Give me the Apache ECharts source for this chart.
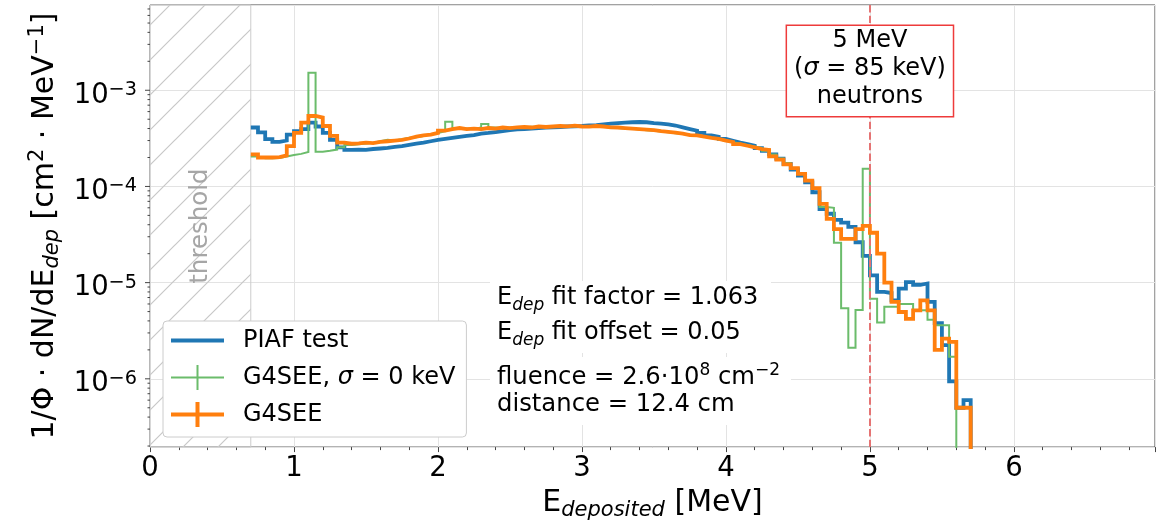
<!DOCTYPE html>
<html>
<head>
<meta charset="utf-8">
<script src="https://cdn.jsdelivr.net/npm/echarts@6/dist/echarts.min.js"></script>
<style>
  html, body { margin: 0; padding: 0; background: #ffffff; }
  #chart { width: 1164px; height: 526px; }
</style>
</head>
<body>
<div id="chart"></div>
<script>
// Deposited-energy histograms, 0.05 MeV bins starting at 0.70 MeV (values are 1/Φ·dN/dE per bin)
const binStart = 0.70;
const binWidth = 0.05;

const piafTest = [
  4.1e-4, 3.65e-4, 3.1e-4, 2.9e-4, 3.0e-4, 3.45e-4, 3.75e-4, 3.95e-4, 4.6e-4, 4.2e-4,
  3.6e-4, 3.05e-4, 2.55e-4, 2.4e-4, 2.42e-4, 2.4e-4, 2.45e-4, 2.48e-4, 2.52e-4, 2.58e-4,
  2.62e-4, 2.7e-4, 2.78e-4, 2.85e-4, 2.95e-4, 3.05e-4, 3.12e-4, 3.2e-4, 3.28e-4, 3.35e-4,
  3.42e-4, 3.55e-4, 3.6e-4, 3.68e-4, 3.75e-4, 3.85e-4, 3.92e-4, 3.95e-4, 4.0e-4, 4.05e-4,
  4.1e-4, 4.12e-4, 4.15e-4, 4.2e-4, 4.22e-4, 4.25e-4, 4.3e-4, 4.35e-4, 4.42e-4, 4.5e-4,
  4.55e-4, 4.6e-4, 4.65e-4, 4.68e-4, 4.65e-4, 4.55e-4, 4.5e-4, 4.42e-4, 4.3e-4, 4.12e-4,
  3.95e-4, 3.8e-4, 3.6e-4, 3.4e-4, 3.28e-4, 3.12e-4, 2.98e-4, 2.85e-4, 2.75e-4, 2.65e-4,
  2.5e-4, 2.35e-4, 2.15e-4, 1.95e-4, 1.72e-4, 1.5e-4, 1.3e-4, 1.1e-4, 8.7e-5, 5.8e-5,
  5.2e-5, 4.5e-5, 4.2e-5, 3.8e-5, 2.63e-5, 1.9e-5, 1.19e-5, 8.0e-6, 7.8e-6, 6.55e-6,
  8.65e-6, 1.01e-5, 9.5e-6, 9.8e-6, 6.3e-6, 3.8e-6, 2.24e-6, 9.4e-7, 5.0e-7, 6.0e-7
];

const g4seeSigma0 = [
  2.05e-4, 1.97e-4, 1.97e-4, 1.98e-4, 2.05e-4, 2.12e-4, 2.18e-4, 2.28e-4, 1.52e-3, 2.3e-4,
  2.35e-4, 2.42e-4, 2.55e-4, 2.7e-4, 2.75e-4, 2.8e-4, 2.85e-4, 2.95e-4, 3.05e-4, 3.0e-4,
  3.1e-4, 3.2e-4, 3.25e-4, 3.35e-4, 3.5e-4, 3.6e-4, 3.75e-4, 4.7e-4, 3.95e-4, 4.0e-4,
  3.95e-4, 4.1e-4, 4.45e-4, 4.1e-4, 4.05e-4, 4.1e-4, 4.15e-4, 4.1e-4, 4.18e-4, 4.15e-4,
  4.22e-4, 4.2e-4, 4.2e-4, 4.25e-4, 4.2e-4, 4.25e-4, 4.2e-4, 4.15e-4, 4.18e-4, 4.1e-4,
  4.05e-4, 4.0e-4, 3.98e-4, 3.9e-4, 3.85e-4, 3.8e-4, 3.72e-4, 3.65e-4, 3.58e-4, 3.5e-4,
  3.45e-4, 3.38e-4, 3.28e-4, 3.2e-4, 3.08e-4, 2.98e-4, 2.88e-4, 2.8e-4, 2.7e-4, 2.6e-4,
  2.5e-4, 2.35e-4, 2.15e-4, 1.95e-4, 1.75e-4, 1.55e-4, 1.35e-4, 1.15e-4, 9.5e-5, 6.1e-5,
  6.0e-5, 2.6e-5, 5.4e-6, 2.1e-6, 5.2e-6, 1.53e-4, 6.8e-6, 3.85e-6, 5.6e-6, 5.6e-6,
  6.0e-6, 6.0e-6, 5.15e-6, 5.15e-6, 4.1e-6, 3.6e-6, 3.6e-6, 1.7e-6, 0, 0
];

const g4see = [
  2.15e-4, 2.0e-4, 2.0e-4, 2.02e-4, 2.1e-4, 2.62e-4, 3.6e-4, 4.6e-4, 5.4e-4, 5.2e-4,
  4.25e-4, 3.35e-4, 2.85e-4, 2.78e-4, 2.8e-4, 2.85e-4, 2.82e-4, 2.9e-4, 2.95e-4, 3.0e-4,
  3.05e-4, 3.15e-4, 3.3e-4, 3.4e-4, 3.45e-4, 3.6e-4, 3.8e-4, 3.95e-4, 4.05e-4, 3.95e-4,
  4.0e-4, 3.95e-4, 4.05e-4, 4.0e-4, 4.1e-4, 4.05e-4, 4.12e-4, 4.15e-4, 4.1e-4, 4.2e-4,
  4.15e-4, 4.2e-4, 4.25e-4, 4.22e-4, 4.28e-4, 4.2e-4, 4.18e-4, 4.25e-4, 4.2e-4, 4.12e-4,
  4.1e-4, 4.05e-4, 4.0e-4, 3.95e-4, 3.9e-4, 3.85e-4, 3.75e-4, 3.7e-4, 3.62e-4, 3.55e-4,
  3.42e-4, 3.4e-4, 3.3e-4, 3.2e-4, 3.12e-4, 3.0e-4, 2.9e-4, 2.75e-4, 2.65e-4, 2.55e-4,
  2.45e-4, 2.4e-4, 2.05e-4, 1.9e-4, 1.7e-4, 1.55e-4, 1.35e-4, 1.15e-4, 9.6e-5, 6.6e-5,
  4.6e-5, 3.6e-5, 2.85e-5, 2.85e-5, 3.6e-5, 3.9e-5, 3.3e-5, 2.0e-5, 1.0e-5, 6.3e-6,
  4.95e-6, 4.2e-6, 5.15e-6, 6.55e-6, 5.15e-6, 2.0e-6, 2.62e-6, 2.42e-6, 5.0e-7, 5.0e-7
];

// Axis ticks
const xTickValues = [0, 1, 2, 3, 4, 5, 6];
const yMajorTicks = [1e-6, 1e-5, 1e-4, 1e-3];
const yMinorTicks = [
  2e-7, 3e-7, 4e-7, 5e-7, 6e-7, 7e-7, 8e-7, 9e-7,
  2e-6, 3e-6, 4e-6, 5e-6, 6e-6, 7e-6, 8e-6, 9e-6,
  2e-5, 3e-5, 4e-5, 5e-5, 6e-5, 7e-5, 8e-5, 9e-5,
  2e-4, 3e-4, 4e-4, 5e-4, 6e-4, 7e-4, 8e-4, 9e-4,
  2e-3, 3e-3, 4e-3, 5e-3, 6e-3, 7e-3
];

const xMin = 0, xMax = 6.98;
const yMin = 1.95e-7, yMax = 7.7e-3;
const thresholdEnergy = 0.7;
const beamEnergy = 5;

const FONT = "'DejaVu Sans', sans-serif";
const EMPTY = 1e-12; // empty bins sit far below the visible range and are clipped

function histogram(values) {
  const pts = values.map((v, i) => [+(binStart + i * binWidth).toFixed(2), v > 0 ? v : EMPTY]);
  pts.push([+(binStart + values.length * binWidth).toFixed(2), EMPTY]);
  return pts;
}

// diagonal "/" hatch tile for the below-threshold band
function hatchPattern() {
  const s = 35;
  const c = document.createElement('canvas');
  c.width = s; c.height = s;
  const g = c.getContext('2d');
  g.strokeStyle = '#c8c8c8';
  g.lineWidth = 1.2;
  g.beginPath();
  g.moveTo(-1, s + 1); g.lineTo(s + 1, -1);
  g.moveTo(-s / 2, s / 2); g.lineTo(s / 2, -s / 2);
  g.moveTo(s / 2, s * 1.5); g.lineTo(s * 1.5, s / 2);
  g.stroke();
  return c;
}

const tickMarks = yMajorTicks.map(v => [xMin, v, 5]).concat(yMinorTicks.map(v => [xMin, v, 2.5]));

const chart = echarts.init(document.getElementById('chart'), null, { renderer: 'canvas' });

const richBase = { fontFamily: FONT, color: '#000' };

chart.setOption({
  animation: false,
  backgroundColor: '#ffffff',
  textStyle: { fontFamily: FONT },
  grid: {
    left: 150, top: 5, width: 1005, height: 444,
    show: true, borderColor: '#444', borderWidth: 1, backgroundColor: 'transparent'
  },
  legend: {
    left: 163, top: 321, orient: 'vertical',
    selectedMode: false,
    backgroundColor: '#ffffff', borderColor: '#cccccc', borderWidth: 1, borderRadius: 4,
    padding: [7, 11, 10, 8],
    itemWidth: 53, itemHeight: 25, itemGap: 12,
    itemStyle: { borderWidth: 0 },
    textStyle: {
      fontFamily: FONT, fontSize: 24, color: '#000', padding: [0, 0, 0, 14],
      rich: { i: { fontFamily: FONT, fontSize: 24, fontStyle: 'italic', color: '#000' } }
    },
    formatter: name => name.replace('σ', '{i|σ}'),
    data: [
      { name: 'PIAF test', icon: 'path://M0,0M0,10.5H53V14.5H0ZM53,25' },
      { name: 'G4SEE, σ = 0 keV', icon: 'path://M0,11.5H53V13.5H0ZM25.5,0H27.5V25H25.5Z' },
      { name: 'G4SEE', icon: 'path://M0,10.5H53V14.5H0ZM24.5,0H28.5V25H24.5Z' }
    ]
  },
  xAxis: {
    type: 'value', min: xMin, max: xMax, interval: 1,
    axisLine: { show: false },
    axisTick: { show: true, length: 5, lineStyle: { color: '#444' } },
    minorTick: { show: true, splitNumber: 5, length: 3, lineStyle: { color: '#444' } },
    splitLine: { show: true, lineStyle: { color: '#e3e3e3', width: 1 } },
    axisLabel: {
      fontFamily: FONT, fontSize: 27.5, color: '#000', margin: 8,
      formatter: v => (xTickValues.indexOf(Math.round(v * 1000) / 1000) >= 0 ? String(Math.round(v)) : '')
    },
    name: '{b|E}{sub|deposited}{b| [MeV]}',
    nameLocation: 'middle', nameGap: 37,
    nameTextStyle: {
      rich: {
        b: Object.assign({ fontSize: 30, lineHeight: 36, verticalAlign: 'middle' }, richBase),
        sub: Object.assign({ fontSize: 21, lineHeight: 19, verticalAlign: 'bottom', fontStyle: 'italic' }, richBase)
      }
    }
  },
  yAxis: {
    type: 'log', logBase: 10, min: yMin, max: yMax,
    axisLine: { show: false },
    axisTick: { show: false },
    splitLine: { show: true, lineStyle: { color: '#e3e3e3', width: 1 } },
    axisLabel: {
      margin: 13,
      padding: [10, 0, 0, 0],
      formatter: v => {
        const e = Math.log10(v);
        const r = Math.round(e);
        if (Math.abs(e - r) > 1e-6 || !yMajorTicks.some(t => Math.abs(Math.log10(t) - r) < 1e-6)) return '';
        return '{b|10}{s|−' + Math.abs(r) + '}';
      },
      rich: {
        b: Object.assign({ fontSize: 27.5, lineHeight: 29, verticalAlign: 'bottom' }, richBase),
        s: Object.assign({ fontSize: 19.25, lineHeight: 19, verticalAlign: 'top' }, richBase)
      }
    },
    name: '{b|1/Φ · dN/dE}{sub|dep}{b| [cm}{sup|2}{b| · MeV}{sup|−1}{b|]}',
    nameLocation: 'middle', nameRotate: 90, nameGap: 87,
    nameTextStyle: {
      rich: {
        b: Object.assign({ fontSize: 30, lineHeight: 36, verticalAlign: 'middle' }, richBase),
        sub: Object.assign({ fontSize: 21, lineHeight: 19, verticalAlign: 'bottom', fontStyle: 'italic' }, richBase),
        sup: Object.assign({ fontSize: 21, lineHeight: 19, verticalAlign: 'top' }, richBase)
      }
    }
  },
  series: [
    {
      name: 'PIAF test', type: 'line', step: 'end', symbol: 'none', z: 3,
      data: histogram(piafTest),
      lineStyle: { color: '#1f77b4', width: 3.8, join: 'miter', cap: 'butt' },
      itemStyle: { color: '#1f77b4' },
      markArea: {
        silent: true,
        itemStyle: { color: { image: hatchPattern(), repeat: 'repeat' }, borderColor: '#cccccc', borderWidth: 1 },
        label: { show: false },
        data: [[{ xAxis: xMin }, { xAxis: thresholdEnergy }]]
      },
      markLine: {
        silent: true, symbol: ['none', 'none'],
        label: { show: false },
        lineStyle: { color: '#e57373', width: 2, type: [7.4, 3.2] },
        data: [{ xAxis: beamEnergy }]
      }
    },
    {
      name: 'G4SEE, σ = 0 keV', type: 'line', step: 'end', symbol: 'none', z: 4,
      data: histogram(g4seeSigma0),
      lineStyle: { color: '#6bbc6b', width: 2, join: 'miter', cap: 'butt' },
      itemStyle: { color: '#6bbc6b' }
    },
    {
      name: 'G4SEE', type: 'line', step: 'end', symbol: 'none', z: 5,
      data: histogram(g4see),
      lineStyle: { color: '#ff7f0e', width: 3.8, join: 'miter', cap: 'butt' },
      itemStyle: { color: '#ff7f0e' }
    },
    {
      // left-axis tick marks at decades and at 2..9 within each decade
      name: 'yTicks', type: 'custom', silent: true, clip: false, z: 6,
      encode: { x: 0, y: 1 },
      data: tickMarks,
      renderItem: (params, api) => {
        const p = api.coord([api.value(0), api.value(1)]);
        const len = api.value(2);
        return {
          type: 'line',
          shape: { x1: p[0] - len, y1: p[1], x2: p[0], y2: p[1] },
          style: { stroke: '#444', lineWidth: 1 }
        };
      }
    }
  ]
});

// Text annotations
const textRich = {
  b: { fontFamily: FONT, fontSize: 24, lineHeight: 28, verticalAlign: 'top', fill: '#000' },
  sub: { fontFamily: FONT, fontSize: 17, lineHeight: 15, verticalAlign: 'bottom', fontStyle: 'italic', fill: '#000' },
  i: { fontFamily: FONT, fontSize: 24, lineHeight: 28, verticalAlign: 'top', fontStyle: 'italic', fill: '#000' }
};
const supRich = {
  b: { fontFamily: FONT, fontSize: 24.3, lineHeight: 27.5, verticalAlign: 'bottom', fill: '#000' },
  sup: { fontFamily: FONT, fontSize: 17, lineHeight: 17, verticalAlign: 'top', fill: '#000' }
};

const xBeam = chart.convertToPixel({ xAxisIndex: 0 }, beamEnergy);
const xThr = chart.convertToPixel({ xAxisIndex: 0 }, thresholdEnergy / 2);
const yMid = (chart.convertToPixel({ yAxisIndex: 0 }, yMin) + chart.convertToPixel({ yAxisIndex: 0 }, yMax)) / 2;

chart.setOption({
  graphic: [
    {
      type: 'text', x: xThr, y: yMid, rotation: Math.PI / 2, z: 50, silent: true,
      style: { text: 'threshold', fontFamily: FONT, fontSize: 24.5, fill: '#a6a6a6', align: 'center', verticalAlign: 'middle' }
    },
    { type: 'rect', z: 50, silent: true, shape: { x: 490, y: 281, width: 281, height: 72 }, style: { fill: '#fff' } },
    { type: 'rect', z: 50, silent: true, shape: { x: 490, y: 357, width: 301, height: 68 }, style: { fill: '#fff' } },
    {
      type: 'text', x: 497, y: 300, z: 51, silent: true,
      style: { text: '{b|E}{sub|dep}{b| fit factor = 1.063}', rich: textRich, verticalAlign: 'middle' }
    },
    {
      type: 'text', x: 497, y: 335, z: 51, silent: true,
      style: { text: '{b|E}{sub|dep}{b| fit offset = 0.05}', rich: textRich, verticalAlign: 'middle' }
    },
    {
      type: 'text', x: 497, y: 376, z: 51, silent: true,
      style: { text: '{b|fluence = 2.6·10}{sup|8}{b| cm}{sup|−2}', rich: supRich, verticalAlign: 'middle' }
    },
    {
      type: 'text', x: 497, y: 405, z: 51, silent: true,
      style: { text: 'distance = 12.4 cm', fontFamily: FONT, fontSize: 24.3, fill: '#000', verticalAlign: 'middle' }
    },
    {
      type: 'text', x: xBeam, y: 26, z: 52, silent: true,
      style: {
        text: '{b|5 MeV}\n{b|(}{i|σ}{b| = 85 keV)}\n{b|neutrons}',
        rich: textRich, align: 'center', verticalAlign: 'top',
        backgroundColor: '#fff', borderColor: '#ee3b3b', borderWidth: 1.5,
        padding: [3, 7, 3, 7]
      }
    }
  ]
});
</script>
</body>
</html>
